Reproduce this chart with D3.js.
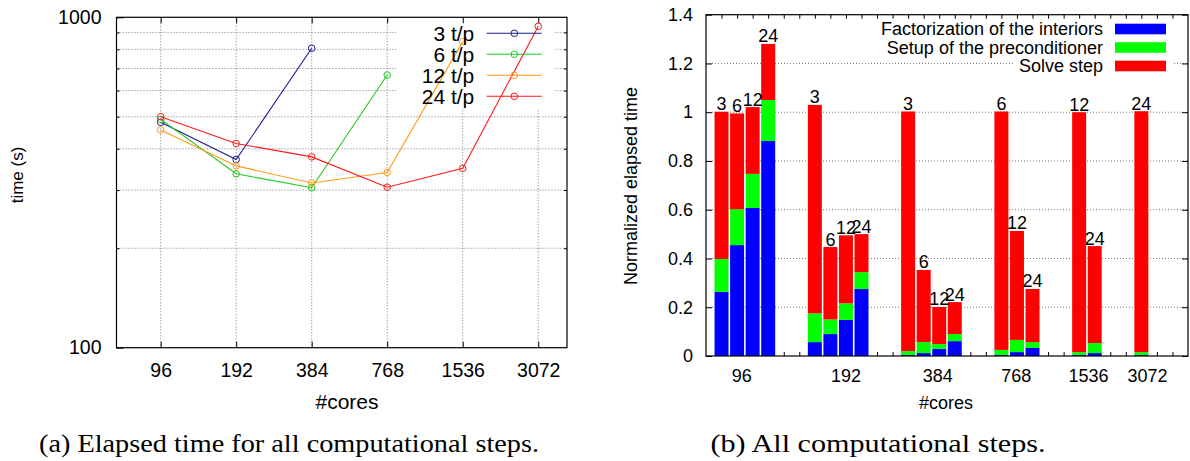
<!DOCTYPE html>
<html><head><meta charset="utf-8">
<script src="https://cdn.jsdelivr.net/npm/d3@7"></script>
<style>body{margin:0;background:#fff} text{font-family:"Liberation Sans",Arial,sans-serif}</style>
</head><body><svg id="c" width="1190" height="461"></svg>
<script>
// ---------- data: left chart (elapsed time, log scale) ----------
const cores = [96, 192, 384, 768, 1536, 3072];
const seriesNames = ["3 t/p", "6 t/p", "12 t/p", "24 t/p"];
const time3 = [481, 371, 806, null, null, null];
const time6 = [491, 336, 305, 669, null, null];
const time12 = [456, 355, 315, 339, 844, null];
const time24 = [500, 415, 378, 306, 349, 939];
const leftYLabels = [100, 1000];
// ---------- data: right chart (normalized stacked bars) ----------
const groupNames = ["96", "192", "384", "768", "1536", "3072"];
const barGroup = [0,0,0,0, 1,1,1,1, 2,2,2,2, 3,3,3, 4,4, 5];
const barLabels = ["3","6","12","24", "3","6","12","24", "3","6","12","24", "6","12","24", "12","24", "24"];
const factorization = [0.263,0.455,0.607,0.882, 0.057,0.090,0.148,0.275, 0.004,0.012,0.029,0.061, 0.004,0.016,0.033, 0.004,0.012, 0.004];
const setup =         [0.135,0.147,0.140,0.168, 0.118,0.060,0.068,0.069, 0.016,0.045,0.020,0.029, 0.021,0.050,0.024, 0.012,0.041, 0.012];
const solve =         [0.604,0.393,0.274,0.230, 0.855,0.297,0.279,0.156, 0.983,0.296,0.152,0.131, 0.978,0.447,0.218, 0.984,0.398, 0.988];
const stepNames = ["Factorization of the interiors", "Setup of the preconditioner", "Solve step"];
const rightYTicks = [0, 0.2, 0.4, 0.6, 0.8, 1.0, 1.2, 1.4];

const svg = d3.select("#c");
const gridStyle = s => s.attr("stroke", "#777").attr("stroke-width", 1).attr("stroke-dasharray", "1,2");

// ================= LEFT CHART =================
const L = {x0: 116.5, x1: 567, y0: 17.3, y1: 347.7};
const xL = d3.scaleLog().base(2).domain([64, 4000]).range([L.x0, L.x1]);
const yL = d3.scaleLog().domain([100, 1000]).range([L.y1, L.y0]);
const gl = svg.append("g");
const minorY = yL.ticks().filter(d => !leftYLabels.includes(d));

gl.selectAll(".hg").data(minorY).join("line")
  .attr("x1", L.x0).attr("x2", L.x1).attr("y1", d => yL(d)).attr("y2", d => yL(d)).call(gridStyle);
gl.selectAll(".vg").data(cores).join("line")
  .attr("x1", d => xL(d)).attr("x2", d => xL(d)).attr("y1", L.y0).attr("y2", L.y1).call(gridStyle);
gl.append("rect").attr("x", 396.7).attr("y", L.y0 + 1).attr("width", 158).attr("height", 90).attr("fill", "#fff");

const axL = d3.axisLeft(yL).tickValues(leftYLabels).tickFormat(d3.format("d")).tickSizeInner(-7).tickSizeOuter(0).tickPadding(15);
gl.append("g").attr("transform", `translate(${L.x0},0)`).call(axL)
  .call(g => g.select(".domain").remove())
  .call(g => g.selectAll("text").attr("font-size", 19.5).attr("fill", "#000"));
gl.append("g").attr("transform", `translate(${L.x0},0)`).call(d3.axisLeft(yL).tickValues(minorY).tickFormat("").tickSizeInner(-3).tickSizeOuter(0))
  .call(g => g.select(".domain").remove());
gl.append("g").attr("transform", `translate(${L.x1},0)`).call(d3.axisRight(yL).tickValues(minorY).tickFormat("").tickSizeInner(-3).tickSizeOuter(0))
  .call(g => g.select(".domain").remove());
gl.append("g").attr("transform", `translate(0,${L.y1})`)
  .call(d3.axisBottom(xL).tickValues(cores).tickFormat(d3.format("d")).tickSizeInner(-6).tickSizeOuter(0).tickPadding(15))
  .call(g => g.select(".domain").remove())
  .call(g => g.selectAll("text").attr("font-size", 19.5).attr("fill", "#000"));
gl.append("g").attr("transform", `translate(0,${L.y0})`)
  .call(d3.axisTop(xL).tickValues(cores).tickFormat("").tickSizeInner(-6).tickSizeOuter(0))
  .call(g => g.select(".domain").remove());
gl.append("rect").attr("x", L.x0).attr("y", L.y0).attr("width", L.x1 - L.x0).attr("height", L.y1 - L.y0)
  .attr("fill", "none").attr("stroke", "#000").attr("stroke-width", 1.2);

const seriesVals = [time3, time6, time12, time24];
const seriesColors = ["#1c1c90", "#20c820", "#ff9a1a", "#ff1a1a"];
const line = d3.line().defined(d => d.v != null).x(d => xL(d.c)).y(d => yL(d.v));
seriesVals.forEach((vals, k) => {
  const pts = vals.map((v, i) => ({c: cores[i], v}));
  gl.append("path").attr("d", line(pts)).attr("fill", "none").attr("stroke", seriesColors[k]).attr("stroke-width", 1.1);
  gl.selectAll(null).data(pts.filter(p => p.v != null)).join("circle")
    .attr("cx", p => xL(p.c)).attr("cy", p => yL(p.v)).attr("r", 3.3)
    .attr("fill", "none").attr("stroke", seriesColors[k]).attr("stroke-width", 1);
});
seriesNames.forEach((n, k) => {
  const y = 33.3 + k * 21;
  gl.append("text").attr("x", 474.3).attr("y", y + 7.5).attr("text-anchor", "end").attr("font-size", 21).text(n);
  gl.append("line").attr("x1", 486.7).attr("x2", 541.7).attr("y1", y).attr("y2", y).attr("stroke", seriesColors[k]).attr("stroke-width", 1.1);
  gl.append("circle").attr("cx", 514.3).attr("cy", y).attr("r", 3.3).attr("fill", "none").attr("stroke", seriesColors[k]);
});
gl.append("text").attr("transform", "translate(23,175) rotate(-90)").attr("text-anchor", "middle").attr("font-size", 17).text("time (s)");
gl.append("text").attr("x", 347).attr("y", 409).attr("text-anchor", "middle").attr("font-size", 21).text("#cores");
svg.append("text").attr("x", 289).attr("y", 452).attr("text-anchor", "middle")
  .attr("textLength", 500).attr("lengthAdjust", "spacingAndGlyphs")
  .style("font-family", "'Liberation Serif',serif").attr("font-size", 26).text("(a) Elapsed time for all computational steps.");

// ================= RIGHT CHART =================
const R = {x0: 706, x1: 1188, y0: 14.7, y1: 356};
const xR = d3.scaleLinear().domain([-1, 30]).range([R.x0, R.x1]);
const yR = d3.scaleLinear().domain([0, 1.4]).range([R.y1, R.y0]);
const gr = svg.append("g");
const slots = barGroup.map((g, i) => i + 2 * g);

gr.selectAll(".hg").data(rightYTicks.slice(1, -1)).join("line")
  .attr("x1", R.x0).attr("x2", R.x1).attr("y1", d => yR(d)).attr("y2", d => yR(d)).call(gridStyle);
gr.append("rect").attr("x", 1015).attr("y", 55).attr("width", 157).attr("height", 20).attr("fill", "#fff");

const tickSlots = d3.range(0, 30);
gr.append("g").attr("transform", `translate(0,${R.y1})`)
  .call(d3.axisBottom(xR).tickValues(tickSlots).tickFormat("").tickSizeInner(-4).tickSizeOuter(0))
  .call(g => g.select(".domain").remove());
gr.append("g").attr("transform", `translate(0,${R.y0})`)
  .call(d3.axisTop(xR).tickValues(tickSlots).tickFormat("").tickSizeInner(-4).tickSizeOuter(0))
  .call(g => g.select(".domain").remove());
gr.append("g").attr("transform", `translate(${R.x0},0)`)
  .call(d3.axisLeft(yR).tickValues(rightYTicks).tickFormat(d3.format("~g")).tickSizeInner(-6).tickSizeOuter(0).tickPadding(13))
  .call(g => g.select(".domain").remove())
  .call(g => g.selectAll("text").attr("font-size", 18).attr("fill", "#000"));
gr.append("g").attr("transform", `translate(${R.x1},0)`)
  .call(d3.axisRight(yR).tickValues(rightYTicks).tickFormat("").tickSizeInner(-6).tickSizeOuter(0))
  .call(g => g.select(".domain").remove());

const keys = ["factorization", "setup", "solve"];
const stepColors = ["#0000ff", "#00ff00", "#ff0000"];
const rows = slots.map((s, i) => ({slot: s, factorization: factorization[i], setup: setup[i], solve: solve[i]}));
const stacked = d3.stack().keys(keys)(rows);
const bw = xR(0.9) - xR(0);
stacked.forEach((layer, k) => {
  gr.selectAll(null).data(layer).join("rect")
    .attr("x", d => xR(d.data.slot) - bw / 2).attr("width", bw)
    .attr("y", d => yR(d[1])).attr("height", d => yR(d[0]) - yR(d[1]))
    .attr("fill", stepColors[k]);
});
gr.selectAll(null).data(rows).join("text")
  .attr("x", d => xR(d.slot)).attr("y", d => yR(d.factorization + d.setup + d.solve) - 1.5)
  .attr("text-anchor", "middle").attr("font-size", 18).text((d, i) => barLabels[i]);

gr.append("rect").attr("x", R.x0).attr("y", R.y0).attr("width", R.x1 - R.x0).attr("height", R.y1 - R.y0)
  .attr("fill", "none").attr("stroke", "#000").attr("stroke-width", 1.2);

const groupLabelPos = [1.3, 8.0, 13.9, 18.95, 23.6, 27.4];
gr.selectAll(null).data(groupNames).join("text")
  .attr("x", (d, i) => xR(groupLabelPos[i])).attr("y", 381.5).attr("text-anchor", "middle").attr("font-size", 18).text(d => d);

stepNames.forEach((n, k) => {
  const y = 29 + k * 18.5;
  gr.append("text").attr("x", 1103).attr("y", y + 6.3).attr("text-anchor", "end").attr("font-size", 18).text(n);
  gr.append("rect").attr("x", 1115).attr("y", y - 5.3).attr("width", 51).attr("height", 10.6).attr("fill", stepColors[k]);
});
gr.append("text").attr("transform", "translate(637,186) rotate(-90)").attr("text-anchor", "middle").attr("font-size", 18).text("Normalized elapsed time");
gr.append("text").attr("x", 946).attr("y", 408.5).attr("text-anchor", "middle").attr("font-size", 18).text("#cores");
svg.append("text").attr("x", 878).attr("y", 452).attr("text-anchor", "middle")
  .attr("textLength", 335).attr("lengthAdjust", "spacingAndGlyphs")
  .style("font-family", "'Liberation Serif',serif").attr("font-size", 26).text("(b) All computational steps.");
</script></body></html>
